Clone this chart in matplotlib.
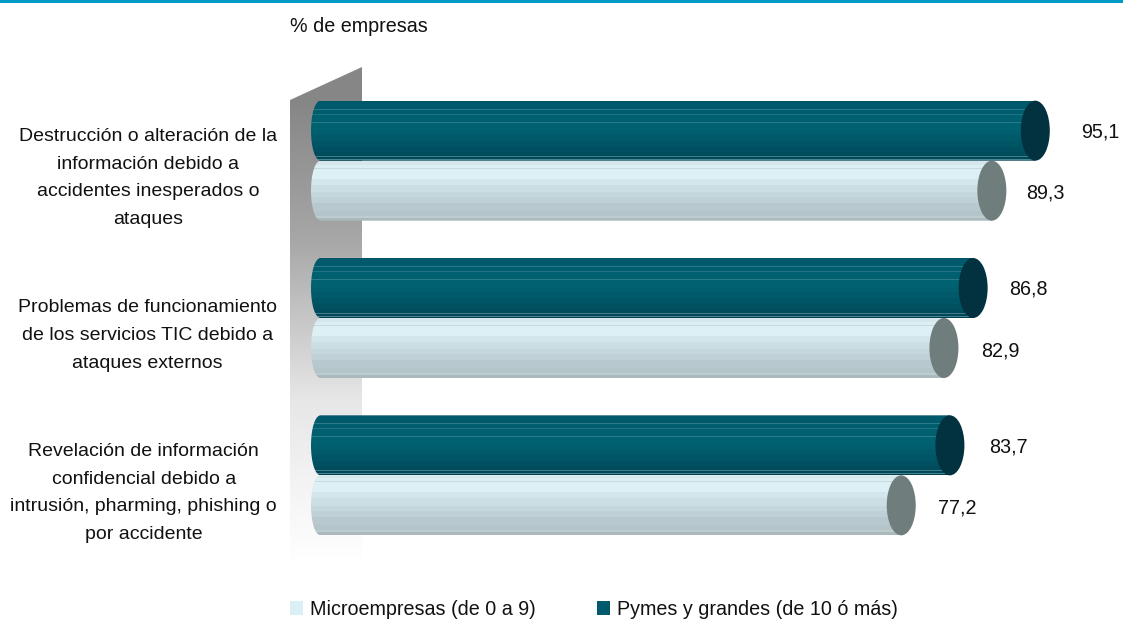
import numpy as np
import matplotlib
matplotlib.use('Agg')
import matplotlib.pyplot as plt
from matplotlib.colors import to_rgb
from matplotlib.patches import Ellipse, Patch, PathPatch, Polygon
from matplotlib.path import Path

plt.rcParams['font.family'] = ['Liberation Sans', 'DejaVu Sans']

categories = ['Destrucción o alteración de la\ninformación debido a\naccidentes inesperados o\nataques',
              'Problemas de funcionamiento\nde los servicios TIC debido a\nataques externos',
              'Revelación de información\nconfidencial debido a\nintrusión, pharming, phishing o\npor accidente']
micro = [89.3, 82.9, 77.2]
pymes = [95.1, 86.8, 83.7]
micro_label = 'Microempresas (de 0 a 9)'
pymes_label = 'Pymes y grandes (de 10 ó más)'
unit_label = '% de empresas'

W, H = 1123, 619
FS = 14.2
fig = plt.figure(figsize=(W/100, H/100), dpi=100)
fig.patch.set_facecolor('white')

px = 100/749          # one pixel in x data units (0 at x=323, 7.49 px per unit)
py = 3/472            # one pixel in y data units (category 0 at y=160.7)

# axes run from pixel 280 to 1072 and from 60 to 570
ax = fig.add_axes([280/W, 1-570/H, 792/W, 510/H])
xlim = ((280-323)*px, 100)
ylim = (-0.5 + (570-82)*py, -0.5 + (60-82)*py)
ax.axis('off')

bar_h = 60*py

# top rule
fig.add_artist(plt.Rectangle((0, 1-3/H), 1, 3/H, color='#009ac7', transform=fig.transFigure, lw=0))

# back wall, grey fading to white
wall_l, wall_r = (290-323)*px, (362-323)*px
wall_top = -0.5 + (67-82)*py
wall_bot = -0.5 + (562-82)*py
wall_corner = -0.5 + (100-82)*py
grad = np.interp(np.linspace(0, 1, 256), [0, 0.3, 0.65, 1], [0, 0.27, 0.8, 1])
grey = np.array(to_rgb('#868686'))
wall_img = (grey[None, :]*(1-grad[:, None]) + grad[:, None])[:, None, :]
ax.imshow(wall_img, extent=(wall_l, wall_r, wall_bot, wall_corner), aspect='auto', zorder=1)
ax.add_patch(Polygon([(wall_l, wall_corner), (wall_r, wall_top), (wall_r, wall_corner)],
                     closed=True, fc='#868686', ec='none', zorder=1))

# (colour, rows) top to bottom
dark_bands = [('#005465', 1), ('#005a6b', 7), ('#2a7a88', 1), ('#005d6e', 4), ('#1f7382', 1), ('#006070', 7),
              ('#2a7a88', 1), ('#006171', 7), ('#005e6e', 6), ('#005a6a', 6), ('#005565', 6), ('#005061', 5),
              ('#004b5c', 4), ('#3f7e89', 1), ('#004859', 2), ('#4a8690', 1), ('#003f4f', 1)]
light_bands = [('#d5e6ec', 4), ('#dbeef3', 3), ('#c8dade', 1), ('#dcf0f5', 10), ('#d3e6eb', 6), ('#cbdee3', 7),
               ('#c4d7dc', 5), ('#bfd1d6', 6), ('#b7c9ce', 8), ('#b3c5c9', 5), ('#bccccf', 2), ('#a9b9bd', 3)]


def cylinder(value, center, bands, cap_color):
    top, bot = center - bar_h/2, center + bar_h/2
    cap_w = 24*px
    img = np.array([to_rgb(c) for c, n in bands for _ in range(n)])[:, None, :]
    shaded = ax.imshow(img, extent=(-cap_w/2, value, bot, top), aspect='auto', zorder=2,
                       interpolation='nearest')
    # body outline: rounded on the left, flat into the end cap on the right
    verts = [(value, top), (-cap_w*0.1, top), (-cap_w*0.33, top), (-cap_w/2, center-bar_h*0.28), (-cap_w/2, center),
             (-cap_w/2, center+bar_h*0.28), (-cap_w*0.33, bot), (-cap_w*0.1, bot), (value, bot), (value, top)]
    codes = [Path.MOVETO, Path.LINETO, Path.CURVE4, Path.CURVE4, Path.CURVE4,
             Path.CURVE4, Path.CURVE4, Path.CURVE4, Path.LINETO, Path.CLOSEPOLY]
    clip = PathPatch(Path(verts, codes), transform=ax.transData, fc='none', ec='none')
    ax.add_patch(clip)
    shaded.set_clip_path(clip)
    ax.add_patch(Ellipse((value, center), 29*px, bar_h, fc=cap_color, ec='none', zorder=3))


offsets = [(54, 65), (56, 55), (56, 59)]
for i in range(len(categories)):
    y_dark = i - 30*py
    y_light = i + 30*py
    cylinder(micro[i], y_light, light_bands, '#6f7d7c')
    cylinder(pymes[i], y_dark, dark_bands, '#02323f')
    ax.annotate(f'{micro[i]:.1f}'.replace('.', ','), (micro[i], y_light), xytext=(offsets[i][0]*0.72, -2),
                textcoords='offset points', ha='center', va='center', fontsize=FS, color='#111111')
    ax.annotate(f'{pymes[i]:.1f}'.replace('.', ','), (pymes[i], y_dark), xytext=(offsets[i][1]*0.72, -1),
                textcoords='offset points', ha='center', va='center', fontsize=FS, color='#111111')
    ax.annotate(categories[i], (0, i), xytext=(-46*0.72, -17.5*0.72), textcoords='offset points',
                ha='right', va='center', multialignment='center', fontsize=14.0,
                linespacing=1.82, color='#111111', annotation_clip=False)

ax.set_xlim(*xlim)
ax.set_ylim(*ylim)

fig.text(290/W, 1-26.5/H, unit_label, fontsize=FS, va='center', ha='left', color='#111111')

handles = [Patch(fc='#daf0f6', ec='none', label=micro_label), Patch(fc='#005a6b', ec='none', label=pymes_label)]
fig.legend(handles=handles, ncol=2, frameon=False, loc='center left', bbox_to_anchor=(290/W, 1-609.5/H),
           fontsize=FS, handlelength=0.66, handleheight=0.66, handletextpad=0.35, columnspacing=3.1,
           borderpad=0, borderaxespad=0, labelcolor='#111111')

fig.savefig('out.png', dpi=100)
